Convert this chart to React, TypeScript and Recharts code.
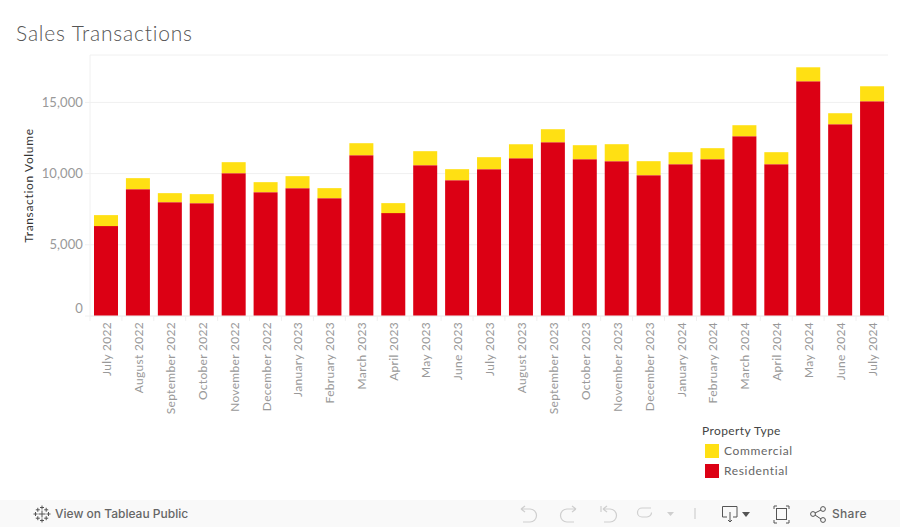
import React from "react";
import { BarChart, Bar, XAxis, YAxis, CartesianGrid } from "recharts";

const months = ["July 2022","August 2022","September 2022","October 2022","November 2022","December 2022","January 2023","February 2023","March 2023","April 2023","May 2023","June 2023","July 2023","August 2023","September 2023","October 2023","November 2023","December 2023","January 2024","February 2024","March 2024","April 2024","May 2024","June 2024","July 2024"];
const residential = [6313,8909,7997,7927,10031,8698,8979,8278,11294,7225,10593,9540,10312,11084,12206,11014,10873,9891,10663,11014,12627,10663,16485,13469,15082];
const commercial = [772,772,631,631,772,702,842,702,842,702,982,772,842,982,912,982,1193,982,842,772,772,842,982,772,1052];
const yTicks = [0,5000,10000,15000];
const legendItems = [{ name: "Commercial", color: "#ffe013" }, { name: "Residential", color: "#dc0014" }];

const data = months.map((month, i) => ({ month, Residential: residential[i], Commercial: commercial[i] }));
const FONT = "Lato, sans-serif";

const XTick = (props: any) => {
  const { x, payload, index } = props;
  const half = 16;
  return (
    <g>
      <line x1={x - half} x2={x - half} y1={316} y2={321} stroke="#f0f0f0" />
      {index === months.length - 1 && <line x1={x + half} x2={x + half} y1={316} y2={321} stroke="#f0f0f0" />}
      <text x={x + 5} y={322} transform={`rotate(-90 ${x + 5} 322)`} textAnchor="end" fill="#999" fontFamily={FONT} fontSize={12} letterSpacing={0.3}>
        {payload.value}
      </text>
    </g>
  );
};

const YTick = (props: any) => {
  const { x, y, payload } = props;
  const shift = payload.value === 0 ? -8 : 0;
  return (
    <text x={x} y={y + shift + 4.5} textAnchor="end" fill="#999" fontFamily={FONT} fontSize={13} letterSpacing={0.1}>
      {payload.value.toLocaleString("en-US")}
    </text>
  );
};

const LegendBox = () => (
  <div style={{ position: "absolute", left: 702, top: 423, fontFamily: FONT, fontSize: 12, lineHeight: "16px" }}>
    <div style={{ color: "#444", letterSpacing: 0.4, marginBottom: 2 }}>Property Type</div>
    {legendItems.map((it) => (
      <div key={it.name} style={{ display: "flex", alignItems: "center", height: 20, marginLeft: 3 }}>
        <span style={{ width: 14, height: 14, background: it.color, display: "inline-block", marginRight: 5 }} />
        <span style={{ color: "#666", letterSpacing: 0.65 }}>{it.name}</span>
      </div>
    ))}
  </div>
);

const crosses: [number, number, number][] = [[9,9,3.5],[9,2.5,2],[9,15.5,2],[2.5,9,2],[15.5,9,2],[4.8,4.8,2],[13.2,4.8,2],[4.8,13.2,2],[13.2,13.2,2]];

const Toolbar = () => (
  <div style={{ position: "absolute", left: 0, top: 500, width: 900, height: 27, background: "#f9f9f9", fontFamily: "Inter, sans-serif" }}>
    <svg width={900} height={27} style={{ position: "absolute", left: 0, top: 0 }} fill="none">
      <g transform="translate(33,5)">
        {crosses.map(([x, y, r], i) => (
          <path key={i} d={`M${x - r} ${y}H${x + r}M${x} ${y - r}V${y + r}`} stroke="#555" strokeWidth={1} fill="none" />
        ))}
      </g>
      <g stroke="#cfcfcf" strokeWidth={1.2}>
        <path d="M521 9H530a6.5 6.5 0 0 1 0 13H523M521 9l4-3M521 9l4 3" />
        <path d="M576 9H567a6.5 6.5 0 0 0 0 13H574M576 9l-4-3M576 9l-4 3" />
        <path d="M601 6V12M603 9H610a6.5 6.5 0 0 1 0 13H604M603 9l4-3M603 9l4 3" />
        <path d="M651 8H642a4.5 4.5 0 0 0 0 9H647a4.5 4.5 0 0 0 4.5-4.5" />
        <path d="M695 8V19" />
      </g>
      <path d="M667 12H674L670.5 16Z" fill="#cfcfcf" />
      <g stroke="#555" strokeWidth={1}>
        <path d="M727 17H722.5V6.5H737V17H733M730 12V22M728 20l2 2 2-2" />
        <path d="M777 6H774V9M786 6H789V9M777 23H774V20M786 23H789V20" />
        <rect x={776.5} y={8.5} width={10} height={11} />
        <circle cx={813} cy={14} r={2.4} />
        <circle cx={823} cy={9} r={2.4} />
        <circle cx={823} cy={20} r={2.4} />
        <path d="M815 13L821 10M815 15L821 19" />
      </g>
      <path d="M742 12H750L746 17Z" fill="#555" />
    </svg>
    <span style={{ position: "absolute", left: 55, top: 6, fontSize: 12, fontWeight: 500, color: "#666", lineHeight: "16px" }}>View on Tableau Public</span>
    <span style={{ position: "absolute", left: 832, top: 6, fontSize: 12, fontWeight: 500, color: "#666", lineHeight: "16px", letterSpacing: 0.3 }}>Share</span>
  </div>
);

export default function App() {
  return (
    <div style={{ position: "absolute", left: 0, top: 0, width: 900, height: 527, background: "#fff", overflow: "hidden" }}>
      <div style={{ position: "absolute", left: 16, top: 20, fontFamily: FONT, fontWeight: 300, fontSize: 21, lineHeight: "26px", color: "#555", letterSpacing: 0.8 }}>Sales Transactions</div>
      <BarChart width={900} height={527} data={data} margin={{ top: 55, right: 12, bottom: 0, left: 0 }} style={{ position: "absolute", left: 0, top: 0 }}>
        <CartesianGrid horizontal vertical={false} stroke="#f0f0f0" />
        <XAxis dataKey="month" interval={0} height={211} axisLine={{ stroke: "#f0f0f0" }} tickLine={false} tick={<XTick />} />
        <YAxis
          width={90}
          domain={[0, 18330]}
          ticks={yTicks}
          allowDataOverflow
          axisLine={{ stroke: "#f0f0f0" }}
          tickLine={{ stroke: "#f0f0f0" }}
          tickSize={5}
          tick={<YTick />}
          label={{ value: "Transaction Volume", angle: -90, position: "insideLeft", offset: 29, style: { textAnchor: "middle", fill: "#333", fontFamily: FONT, fontSize: 12, letterSpacing: 0.65 } }}
        />
        <Bar dataKey="Residential" stackId="a" fill="#dc0014" barSize={24} isAnimationActive={false} />
        <Bar dataKey="Commercial" stackId="a" fill="#ffe013" barSize={24} isAnimationActive={false} />
      </BarChart>
      <LegendBox />
      <Toolbar />
    </div>
  );
}
